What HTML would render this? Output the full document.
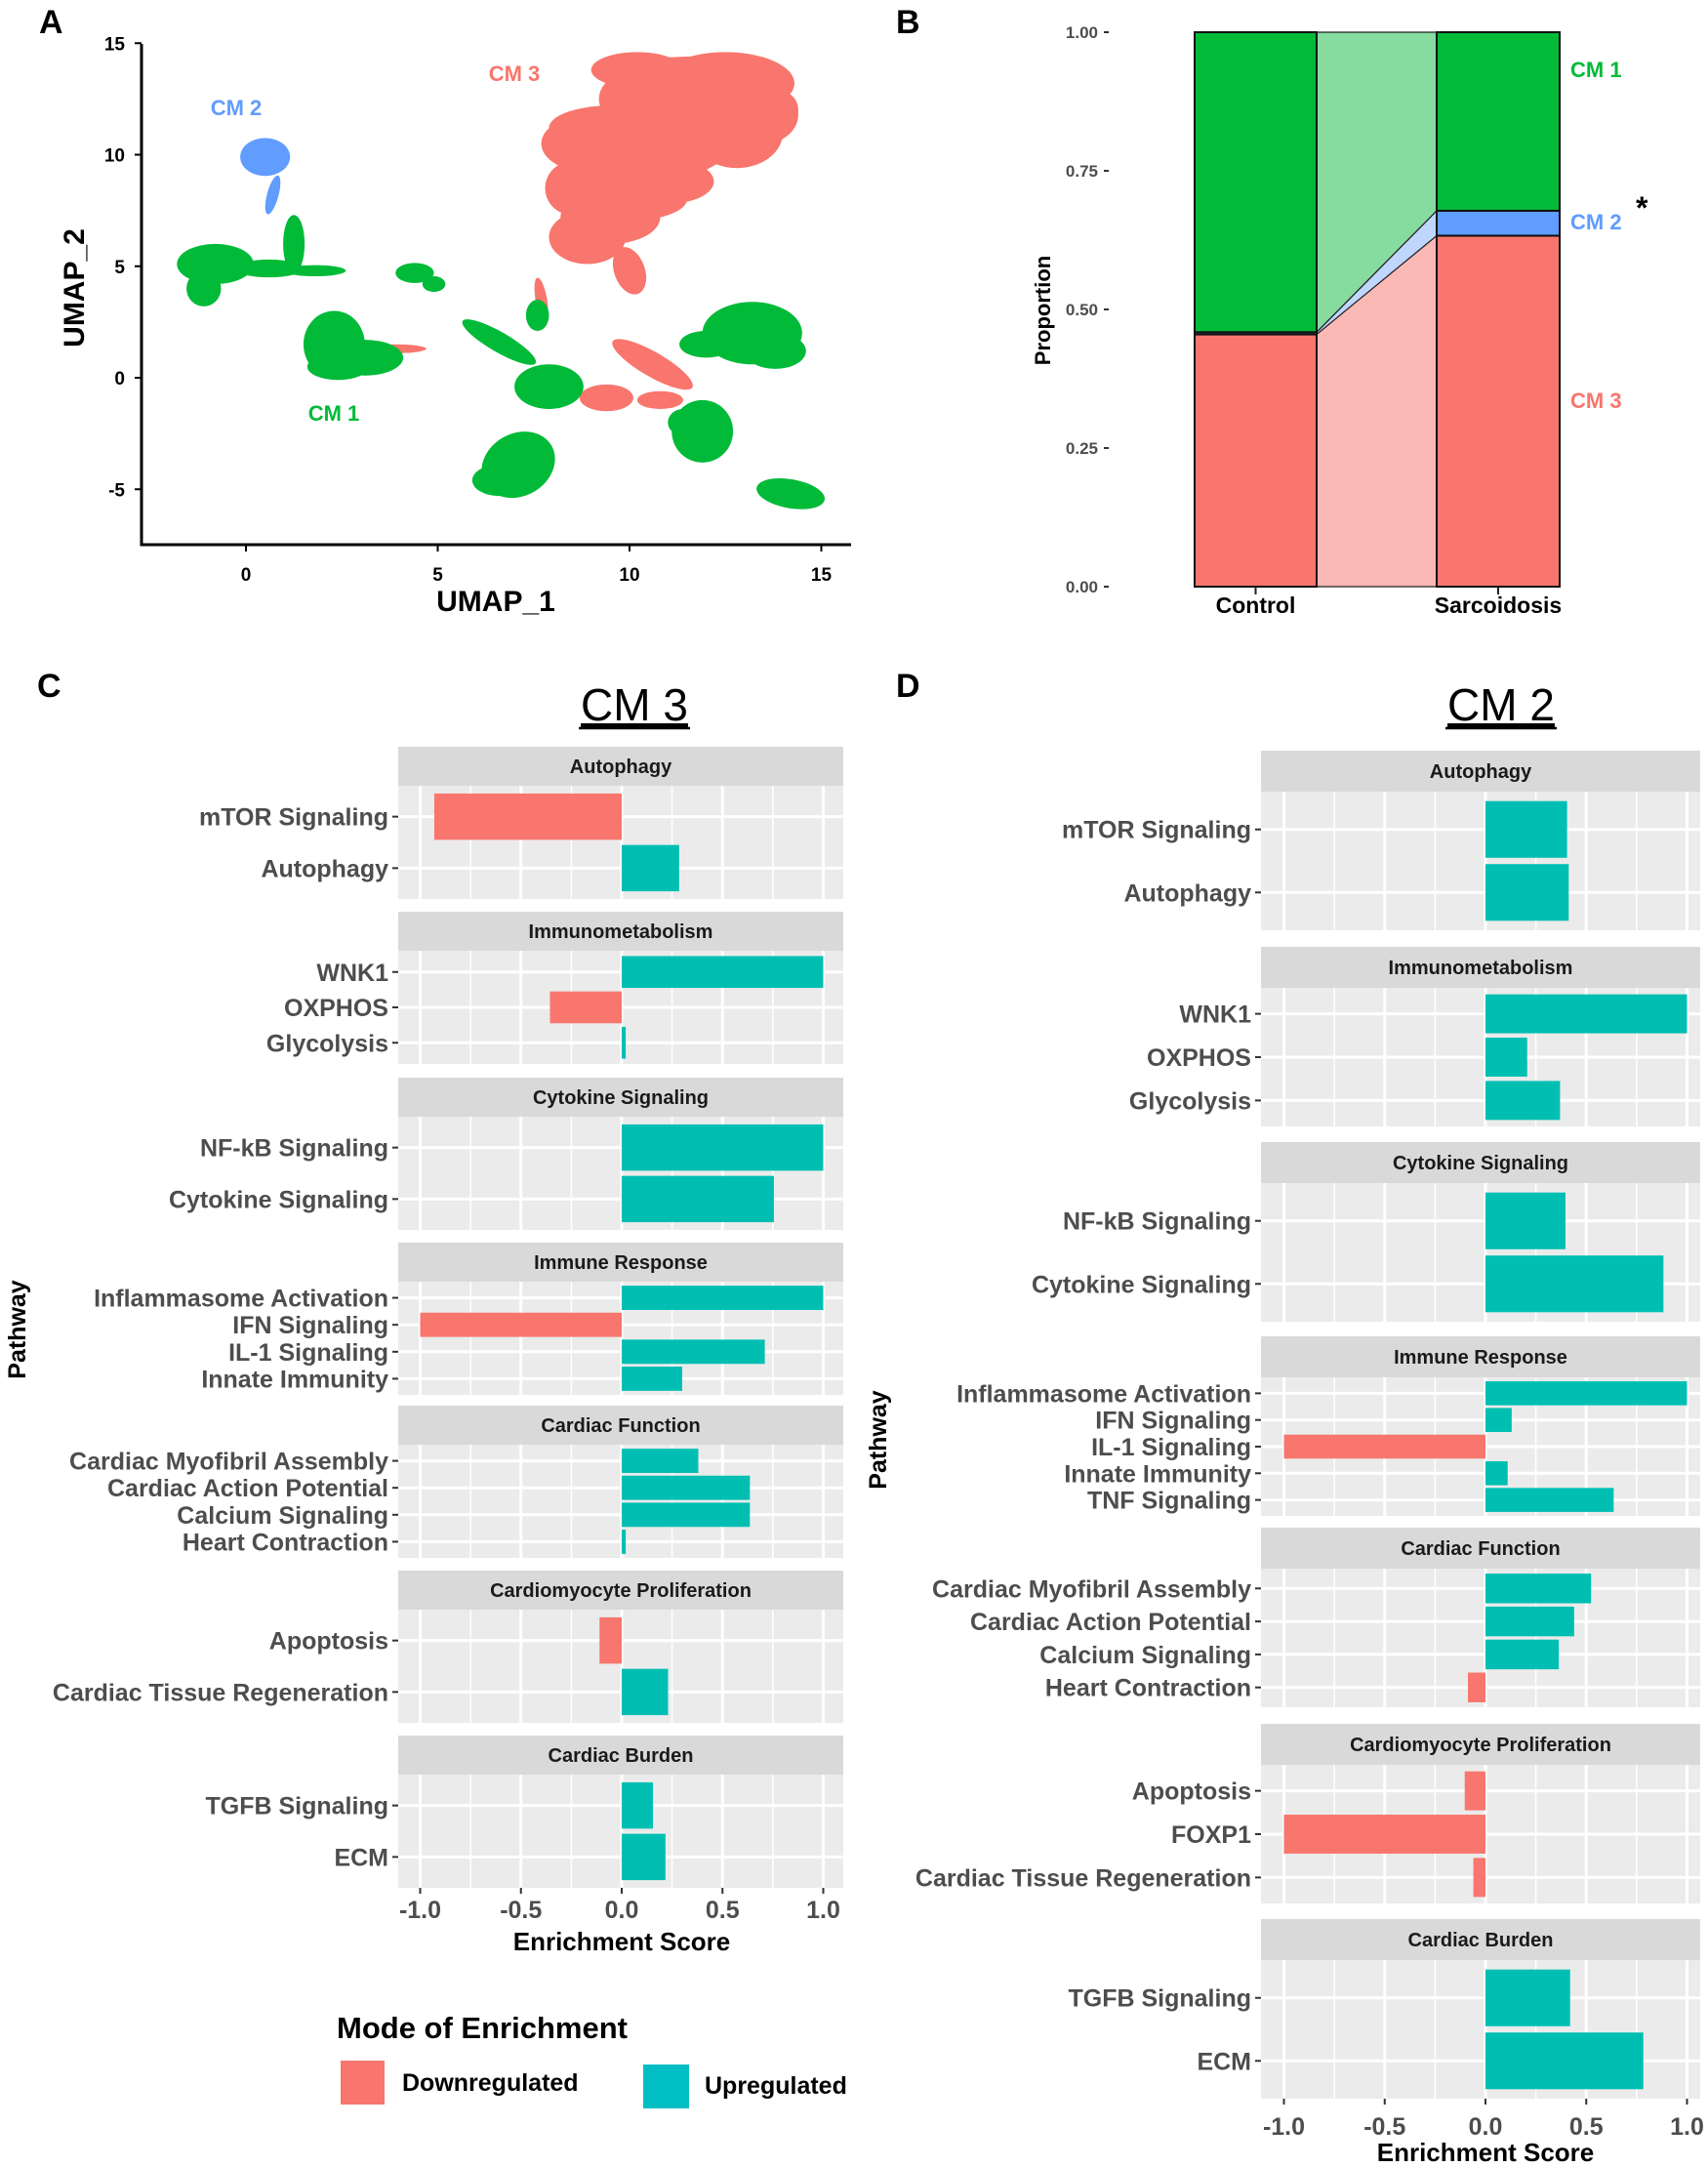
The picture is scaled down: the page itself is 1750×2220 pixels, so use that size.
<!DOCTYPE html>
<html><head><meta charset="utf-8"><style>
body{margin:0;background:#fff}
svg{display:block;font-family:"Liberation Sans",Arial,sans-serif}
</style></head><body>
<svg id="fig" width="1750" height="2220" viewBox="0 0 1750 2220" xmlns="http://www.w3.org/2000/svg">
<rect width="1750" height="2220" fill="#fff"/>
<g id="pa"></g>
<g id="pb"></g>
<g id="pc"></g>
<g id="pd"></g>
</svg>
<script>
const NS='http://www.w3.org/2000/svg';
function mk(parent,tag,attrs,text){const e=document.createElementNS(NS,tag);for(const k in attrs)e.setAttribute(k,attrs[k]);if(text!==undefined)e.textContent=text;parent.appendChild(e);return e;}

// ---------- Panel A data ----------
const umapXTicks=[0,5,10,15];
const umapYTicks=[-5,0,5,10,15];
// blobs: [x, y, rx, ry, rotation, cluster]
const umapBlobs=[
[11.5,12.5,2.3,1.9,0,3],[12.5,13.2,1.8,1.4,0,3],[13.5,11.8,0.9,1.3,0,3],[12.8,11.0,1.2,1.6,0,3],
[9.5,11.2,1.6,1.0,0,3],[11.0,10.5,1.6,1.5,0,3],[9.0,10.5,1.3,1.3,0,3],[10.3,9.5,1.6,1.6,0,3],
[8.5,8.5,0.7,1.2,0,3],[9.5,7.2,1.3,1.2,0,3],[11.0,8.8,1.2,1.0,0,3],[9.8,8.0,1.7,1.0,0,3],
[8.9,6.3,1.0,1.2,0,3],[10.2,13.8,1.2,0.8,0,3],[10.0,4.8,0.4,1.1,20,3],[14.0,12.0,0.4,0.8,0,3],
[10.6,0.6,1.2,0.55,-30,3],[9.4,-0.9,0.7,0.6,0,3],[10.8,-1.0,0.6,0.4,0,3],[3.9,1.3,0.8,0.2,0,3],[7.7,3.5,0.15,1.0,10,3],
[-0.8,5.1,1.0,0.9,0,1],[-1.1,4.0,0.45,0.8,0,1],[0.6,4.9,0.9,0.4,0,1],[1.25,6.0,0.28,1.3,0,1],
[1.8,4.8,0.8,0.25,0,1],[2.3,1.5,0.8,1.5,0,1],[3.1,0.9,1.0,0.8,0,1],[2.4,0.5,0.8,0.6,0,1],[4.4,4.7,0.5,0.45,0,1],
[4.9,4.2,0.3,0.35,0,1],[6.6,1.6,1.1,0.45,-30,1],[7.6,2.8,0.3,0.7,0,1],[7.9,-0.4,0.9,1.0,0,1],
[7.1,-3.9,1.0,1.4,30,1],[6.6,-4.6,0.7,0.7,0,1],[13.2,2.0,1.3,1.4,0,1],[12.0,1.5,0.7,0.6,0,1],[13.8,1.2,0.8,0.8,0,1],
[11.9,-2.4,0.8,1.4,0,1],[11.4,-2.0,0.4,0.6,0,1],[14.2,-5.2,0.9,0.65,-10,1],
[0.5,9.9,0.65,0.85,0,2],[0.7,8.2,0.15,0.9,-15,2]
];
const clusterColors={1:'#00BA38',2:'#619CFF',3:'#F8766D'};

// ---------- Panel B data ----------
const groups=['Control','Sarcoidosis'];
const propCM3=[0.455,0.633];
const propCM2=[0.004,0.045];
const propCM1=[0.541,0.322];
const propTicks=['0.00','0.25','0.50','0.75','1.00'];

// ---------- Panel C data ----------
const cFacets=['Autophagy','Immunometabolism','Cytokine Signaling','Immune Response','Cardiac Function','Cardiomyocyte Proliferation','Cardiac Burden'];
const cItems=[['mTOR Signaling','Autophagy'],['WNK1','OXPHOS','Glycolysis'],['NF-kB Signaling','Cytokine Signaling'],['Inflammasome Activation','IFN Signaling','IL-1 Signaling','Innate Immunity'],['Cardiac Myofibril Assembly','Cardiac Action Potential','Calcium Signaling','Heart Contraction'],['Apoptosis','Cardiac Tissue Regeneration'],['TGFB Signaling','ECM']];
const cValues=[[-0.93,0.285],[1.0,-0.356,0.02],[1.0,0.755],[1.0,-1.0,0.71,0.30],[0.38,0.636,0.636,0.02],[-0.11,0.23],[0.155,0.217]];
// ---------- Panel D data ----------
const dFacets=['Autophagy','Immunometabolism','Cytokine Signaling','Immune Response','Cardiac Function','Cardiomyocyte Proliferation','Cardiac Burden'];
const dItems=[['mTOR Signaling','Autophagy'],['WNK1','OXPHOS','Glycolysis'],['NF-kB Signaling','Cytokine Signaling'],['Inflammasome Activation','IFN Signaling','IL-1 Signaling','Innate Immunity','TNF Signaling'],['Cardiac Myofibril Assembly','Cardiac Action Potential','Calcium Signaling','Heart Contraction'],['Apoptosis','FOXP1','Cardiac Tissue Regeneration'],['TGFB Signaling','ECM']];
const dValues=[[0.405,0.413],[1.0,0.207,0.37],[0.397,0.883],[1.0,0.13,-1.0,0.11,0.636],[0.524,0.44,0.364,-0.087],[-0.103,-1.0,-0.06],[0.42,0.783]];
const esTicks=[-1.0,-0.5,0.0,0.5,1.0];

// ===== Panel A =====
(function(){
 const g=document.getElementById('pa');
 const sx=v=>252+v*39.3, sy=v=>387-v*22.85;
 let t=mk(g,'text',{x:40,y:34,'font-size':34,'font-weight':'bold'},'A');
 
 for(const b of umapBlobs){
  const e=mk(g,'ellipse',{cx:sx(b[0]),cy:sy(b[1]),rx:b[2]*39.3,ry:b[3]*22.85,fill:clusterColors[b[5]],transform:`rotate(${-b[4]} ${sx(b[0])} ${sy(b[1])})`});
  
  
 }
 let l=mk(g,'path',{d:'M145,45 V558 H872',stroke:'#000','stroke-width':3,fill:'none'});
 
 for(const v of umapXTicks){
  mk(g,'line',{x1:sx(v),x2:sx(v),y1:558,y2:565,stroke:'#000','stroke-width':2});
  const tx=mk(g,'text',{x:sx(v),y:595,'text-anchor':'middle','font-size':19,'font-weight':'bold'},String(v));
  
 }
 for(const v of umapYTicks){
  mk(g,'line',{x1:138,x2:145,y1:sy(v),y2:sy(v),stroke:'#000','stroke-width':2});
  const tx=mk(g,'text',{x:128,y:sy(v)+7,'text-anchor':'end','font-size':19,'font-weight':'bold'},String(v));
  
 }
 t=mk(g,'text',{x:508,y:626,'text-anchor':'middle','font-size':30,'font-weight':'bold'},'UMAP_1');
 
 t=mk(g,'text',{x:0,y:0,'text-anchor':'middle','font-size':30,'font-weight':'bold',transform:'translate(86,295) rotate(-90)'},'UMAP_2');
 
 const labs=[['CM 3',527,83,'#F8766D'],['CM 2',242,118,'#619CFF'],['CM 1',342,431,'#00BA38']];
 for(const a of labs){const x=mk(g,'text',{x:a[1],y:a[2],'text-anchor':'middle','font-size':22,'font-weight':'bold',fill:a[3]},a[0]);
  }
})();

// ===== Panel B =====
(function(){
 const g=document.getElementById('pb');
 const y0=601,y1=33, sy=v=>y0-(y0-y1)*v;
 const bx=[[1224,1349],[1472,1598]];
 let t=mk(g,'text',{x:918,y:34,'font-size':34,'font-weight':'bold'},'B');
 
 const layers=[[propCM3,'#F8766D','#FAB9B4','cm3'],[propCM2,'#619CFF','#BFD6FF','cm2'],[propCM1,'#00BA38','#85DC9E','cm1']];
 let base=[0,0];
 for(const L of layers){
  const v=L[0], top=[base[0]+v[0],base[1]+v[1]];
  const f=mk(g,'polygon',{points:`${bx[0][1]},${sy(base[0])} ${bx[1][0]},${sy(base[1])} ${bx[1][0]},${sy(top[1])} ${bx[0][1]},${sy(top[0])}`,fill:L[2],stroke:'#222','stroke-width':1.2});
  
  for(let i=0;i<2;i++){
   const r=mk(g,'rect',{x:bx[i][0],y:sy(top[i]),width:bx[i][1]-bx[i][0],height:sy(base[i])-sy(top[i]),fill:L[1],stroke:'#111','stroke-width':2});
   
  }
  base=top;
 }
 propTicks.forEach(s=>{const v=parseFloat(s);
  mk(g,'line',{x1:1131,x2:1136,y1:sy(v),y2:sy(v),stroke:'#333','stroke-width':2});
  const x=mk(g,'text',{x:1125,y:sy(v)+6,'text-anchor':'end','font-size':17,'font-weight':'bold',fill:'#4D4D4D'},s);
  });
 groups.forEach((n,i)=>{const cx=(bx[i][0]+bx[i][1])/2;
  mk(g,'line',{x1:cx,x2:cx,y1:601,y2:609,stroke:'#222','stroke-width':2});
  const x=mk(g,'text',{x:cx,y:628,'text-anchor':'middle','font-size':23,'font-weight':'bold'},n);
  });
 t=mk(g,'text',{x:0,y:0,'text-anchor':'middle','font-size':22,'font-weight':'bold',transform:'translate(1076,318) rotate(-90)'},'Proportion');
 
 const labs=[['CM 1',79,'#00BA38'],['CM 2',235,'#619CFF'],['CM 3',418,'#F8766D']];
 for(const a of labs){const x=mk(g,'text',{x:1609,y:a[1],'font-size':22,'font-weight':'bold',fill:a[2]},a[0]);
  }
 t=mk(g,'text',{x:1676,y:224,'font-size':32,'font-weight':'bold'},'*');
 
})();

// ===== Panels C/D =====
function facetChart(g,cfg,facets,items,values){
 const sx=v=>cfg.zero+v*cfg.unit;
 facets.forEach((name,fi)=>{
  const top=cfg.tops[fi], pt=top+cfg.stripH, pb=top+cfg.panelH;
  const st=mk(g,'rect',{x:cfg.left,y:top,width:cfg.right-cfg.left,height:cfg.stripH,fill:'#D9D9D9'});
  
  const sl=mk(g,'text',{x:(cfg.left+cfg.right)/2,y:top+cfg.stripH/2+7,'text-anchor':'middle','font-size':20,'font-weight':'bold',fill:'#1A1A1A'},name);
  
  const bg=mk(g,'rect',{x:cfg.left,y:pt,width:cfg.right-cfg.left,height:pb-pt,fill:'#EBEBEB'});
  
  [-0.75,-0.25,0.25,0.75].forEach(v=>mk(g,'line',{x1:sx(v),x2:sx(v),y1:pt,y2:pb,stroke:'#fff','stroke-width':1.5}));
  esTicks.forEach(v=>mk(g,'line',{x1:sx(v),x2:sx(v),y1:pt,y2:pb,stroke:'#fff','stroke-width':3}));
  const n=items[fi].length, step=(pb-pt)/(n-1+1.2);
  items[fi].forEach((it,ii)=>{
   const cy=pt+step*(0.6+ii);
   mk(g,'line',{x1:cfg.left,x2:cfg.right,y1:cy,y2:cy,stroke:'#fff','stroke-width':3});
   const v=values[fi][ii];
   const b=mk(g,'rect',{x:Math.min(sx(0),sx(v)),y:cy-step*0.45,width:Math.abs(sx(v)-sx(0)),height:step*0.9,fill:v<0?'#F8766D':'#00BFB2'});
   
   
   mk(g,'line',{x1:cfg.left-6,x2:cfg.left,y1:cy,y2:cy,stroke:'#333','stroke-width':2});
   const lb=mk(g,'text',{x:cfg.left-10,y:cy+9,'text-anchor':'end','font-size':25,'font-weight':'bold',fill:'#4D4D4D'},it);
   
  });
 });
 const lastB=cfg.tops[cfg.tops.length-1]+cfg.panelH;
 esTicks.forEach(v=>{
  mk(g,'line',{x1:sx(v),x2:sx(v),y1:lastB,y2:lastB+6,stroke:'#333','stroke-width':2});
  const x=mk(g,'text',{x:sx(v),y:cfg.tickY,'text-anchor':'middle','font-size':25,'font-weight':'bold',fill:'#4D4D4D'},v.toFixed(1));
  
 });
 let t=mk(g,'text',{x:sx(0),y:cfg.titleY,'text-anchor':'middle','font-size':26,'font-weight':'bold'},'Enrichment Score');
 
 t=mk(g,'text',{x:0,y:0,'text-anchor':'middle','font-size':25,'font-weight':'bold',transform:`translate(${cfg.pathX},${cfg.pathY}) rotate(-90)`},'Pathway');
 
 t=mk(g,'text',{x:cfg.cmX,y:cfg.cmY,'text-anchor':'middle','font-size':46,'text-decoration':'underline'},cfg.cm);
 
 mk(g,'line',{x1:cfg.cmX-57,x2:cfg.cmX+57,y1:cfg.cmY+8,y2:cfg.cmY+8,stroke:'#000','stroke-width':2.5});
 t=mk(g,'text',{x:cfg.letterX,y:cfg.letterY,'font-size':34,'font-weight':'bold'},cfg.letter);
 
}
facetChart(document.getElementById('pc'),{left:408,right:864,zero:637,unit:206.5,tops:[765,934,1104,1273,1440,1609,1778],stripH:40,panelH:156,tickY:1965,titleY:1998,pathX:26,pathY:1362,cm:'CM 3',cmX:650,cmY:738,letter:'C',letterX:38,letterY:714},cFacets,cItems,cValues);
facetChart(document.getElementById('pd'),{left:1292,right:1742,zero:1522,unit:206.5,tops:[769,970,1170,1369,1565,1766,1966],stripH:42,panelH:184,tickY:2187,titleY:2214,pathX:908,pathY:1475,cm:'CM 2',cmX:1538,cmY:738,letter:'D',letterX:918,letterY:714},dFacets,dItems,dValues);

// legend
(function(){
 const g=document.getElementById('pc');
 let t=mk(g,'text',{x:345,y:2088,'font-size':31,'font-weight':'bold'},'Mode of Enrichment');
 
 let r=mk(g,'rect',{x:349,y:2111,width:45,height:45,fill:'#F8766D'});
 
 t=mk(g,'text',{x:412,y:2142,'font-size':25,'font-weight':'bold'},'Downregulated');
 
 r=mk(g,'rect',{x:659,y:2115,width:47,height:45,fill:'#00BFC4'});
 
 t=mk(g,'text',{x:722,y:2145,'font-size':25,'font-weight':'bold'},'Upregulated');
 
})();
</script>
</body></html>
